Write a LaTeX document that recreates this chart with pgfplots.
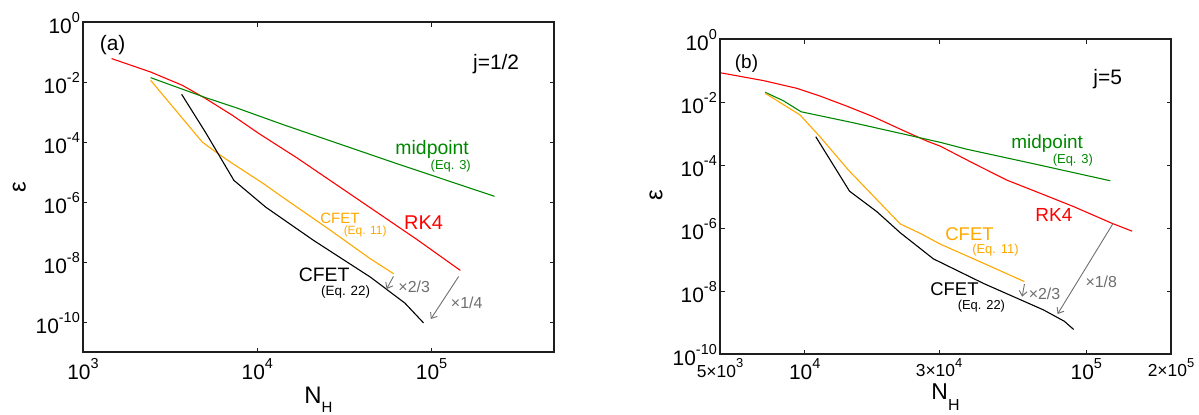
\documentclass[border=0pt]{standalone}
\usepackage{fontspec}
\setmainfont{Liberation Sans}
\usepackage{pgfplots}
\pgfplotsset{compat=1.18}
\usetikzlibrary{arrows.meta}
\definecolor{mgreen}{RGB}{0,135,0}
\definecolor{morange}{RGB}{255,168,0}
\definecolor{mgray}{RGB}{110,110,110}
\definecolor{mframe}{RGB}{30,30,30}
\newcommand{\fs}[1]{\fontsize{#1}{#1}\selectfont}
\newcommand{\sps}[1]{\raisebox{11bp}{\fs{14.5}#1}}
\newcommand{\spss}[1]{\raisebox{9.5bp}{\fs{13}#1}}
\tikzset{
  mylab/.style={anchor=west, inner sep=0pt},
  myarr/.style={mgray, line width=0.9bp, -{Straight Barb[length=5bp,width=8bp]}},
}
\begin{document}
\begin{tikzpicture}
\useasboundingbox (0,0) rectangle (1199bp,-415bp);
% ---------------- panel (a)
\begin{axis}[name=pa,
  scale only axis, xmode=log, ymode=log, clip=false,
  xminorticks=false, yminorticks=false,
  tick align=inside, major tick length=4.5bp,
  axis line style={draw=mframe, line width=1.5bp},
  tick style={draw=mframe, line width=1bp},
  tick label style={font=\fs{21}},
  xticklabel style={inner sep=0pt, anchor=north, yshift=-6.6bp},
  yticklabel style={inner sep=0pt, anchor=east, xshift=-3bp, yshift=-1.5bp},
  ytick={1e-10,1e-8,1e-6,1e-4,1e-2,1},
  yticklabels={10\sps{-10},10\sps{-8},10\sps{-6},10\sps{-4},10\sps{-2},10\sps{0}},
  at={(83bp,-352bp)}, anchor=south west,
  width=471bp, height=330bp,
  xmin=1e3, xmax=5.04e5, ymin=1e-11, ymax=1,
  xtick={1e3,1e4,1e5},
  xticklabels={10\sps{3},10\sps{4},10\sps{5}},
]
\addplot[red, line width=1.1bp] coordinates {(1459,6.03e-2)(2443,2.153e-2)(3715,7.762e-3)(5047,2.818e-3)(7194,7.762e-4)(10230,1.905e-4)(16900,2.951e-5)(40740,9.12e-7)(82410,5.623e-8)(146200,5.248e-9)};
\addplot[mgreen, line width=1.1bp] coordinates {(2443,1.396e-2)(5047,3.020e-3)(7499,1.413e-3)(13900,3.890e-4)(63100,1.905e-5)(229600,1.549e-6)};
\addplot[morange, line width=1.1bp] coordinates {(2443,1.140e-2)(4831,1e-4)(5768,4.677e-5)(7015,2.138e-5)(10860,4.074e-6)(13900,1.479e-6)(26240,1.148e-7)(44460,1.288e-8)(60530,4.074e-9)};
\addplot[black, line width=1.1bp] coordinates {(3681,3.890e-3)(5047,2.089e-4)(7345,5.248e-6)(11170,6.761e-7)(21040,5.248e-8)(44460,3.162e-9)(70310,4.266e-10)(89950,9.333e-11)};
\draw[myarr] (axis cs:6.04e4,3.3e-9) -- (axis cs:5.52e4,1.26e-9);
\draw[myarr] (axis cs:1.43e5,3.3e-9) -- (axis cs:9.9e4,1.26e-10);
\node[font=\fs{21}, anchor=center, inner sep=0pt] at (axis cs:1479,0.167) {(a)};
\node[mylab, font=\fs{21}] at (axis cs:1.728e5,4.10e-2) {j=1/2};
\node[mylab, font=\fs{19.5}, text=mgreen] at (axis cs:6.19e4,5.58e-5) {midpoint};
\node[anchor=east, inner sep=0pt, font=\fs{13}, text=mgreen] at (axis cs:1.683e5,1.55e-5) {(Eq. 3)};
\node[mylab, font=\fs{20}, text=red] at (axis cs:6.95e4,2.01e-7) {RK4};
\node[mylab, font=\fs{15}, text=morange] at (axis cs:2.296e4,2.80e-7) {CFET};
\node[mylab, font=\fs{12}, text=morange] at (axis cs:3.126e4,1.05e-7) {(Eq. 11)};
\node[mylab, font=\fs{19.5}] at (axis cs:1.726e4,3.61e-9) {CFET};
\node[mylab, font=\fs{13.5}] at (axis cs:2.317e4,1.0e-9) {(Eq. 22)};
\node[mylab, font=\fs{16}, text=mgray] at (axis cs:6.44e4,1.44e-9) {×2/3};
\node[mylab, font=\fs{16}, text=mgray] at (axis cs:1.288e5,4.30e-10) {×1/4};
\node[font=\fs{24}, anchor=base, inner sep=0pt] at (rel axis cs:0.5,-0.1567) {N\raisebox{-9bp}{\fs{15}H}};
\node[font=\fs{24}, rotate=90, anchor=center, inner sep=0pt] at (rel axis cs:-0.135,0.5) {ε};
\end{axis}
\draw[mframe, line width=1.5bp] (pa.south west) rectangle (pa.north east);
% ---------------- panel (b)
\begin{axis}[name=pb,
  scale only axis, xmode=log, ymode=log, clip=false,
  xminorticks=false, yminorticks=false,
  tick align=inside, major tick length=4.5bp,
  axis line style={draw=mframe, line width=1.5bp},
  tick style={draw=mframe, line width=1bp},
  tick label style={font=\fs{21}},
  xticklabel style={inner sep=0pt, anchor=north, yshift=-4.3bp},
  yticklabel style={inner sep=0pt, anchor=east, xshift=-3bp, yshift=-1.5bp},
  ytick={1e-10,1e-8,1e-6,1e-4,1e-2,1},
  yticklabels={10\sps{-10},10\sps{-8},10\sps{-6},10\sps{-4},10\sps{-2},10\sps{0}},
  at={(720bp,-354bp)}, anchor=south west,
  width=451bp, height=315bp,
  xmin=5e3, xmax=2e5, ymin=1e-10, ymax=1,
  xtick={5e3,1e4,3e4,1e5,2e5},
  xticklabels={{\fs{17.5}5×10\spss{3}},10\sps{4},{\fs{17.5}3×10\spss{4}},10\sps{5},{\fs{17.5}2×10\spss{5}}},
]
\addplot[red, line width=1.1bp] coordinates {(5000,8.51e-2)(7129,4.786e-2)(9376,2.716e-2)(11320,1.549e-2)(14090,7.413e-3)(17540,3.388e-3)(22440,1.230e-3)(27160,5.754e-4)(30270,3.981e-4)(39810,1.122e-4)(52240,3.311e-5)(68710,1.259e-5)(90160,4.786e-6)(123300,1.413e-6)(145500,7.943e-7)};
\addplot[mgreen, line width=1.1bp] coordinates {(7228,2.042e-2)(8395,1.096e-2)(9705,4.898e-3)(14890,2.188e-3)(21230,1.072e-3)(30270,5.248e-4)(37670,3.162e-4)(65010,1.096e-4)(121700,3.162e-5)};
\addplot[morange, line width=1.1bp] coordinates {(7228,1.905e-2)(9616,3.890e-3)(11320,7.943e-4)(14290,6.918e-5)(21830,1.349e-6)(25700,6.761e-7)(30270,3.090e-7)(43150,7.586e-8)(60260,1.995e-8)};
\addplot[black, line width=1.1bp] coordinates {(10940,7.943e-4)(14420,1.479e-5)(18030,3.311e-6)(21830,7.079e-7)(28640,1.047e-7)(43150,1.738e-8)(70470,2.512e-9)(83560,1.096e-9)(90160,6.026e-10)};
\draw[myarr] (axis cs:6.03e4,1.66e-8) -- (axis cs:5.92e4,6.61e-9);
\draw[myarr] (axis cs:1.242e5,1.35e-6) -- (axis cs:7.91e4,1.86e-9);
\node[font=\fs{19}, anchor=west, inner sep=0pt] at (axis cs:5640,0.169) {(b)};
\node[mylab, font=\fs{21}] at (axis cs:1.059e5,5.26e-2) {j=5};
\node[mylab, font=\fs{19}, text=mgreen] at (axis cs:5.414e4,4.64e-4) {midpoint};
\node[anchor=east, inner sep=0pt, font=\fs{13}, text=mgreen] at (axis cs:1.057e5,1.44e-4) {(Eq. 3)};
\node[mylab, font=\fs{19}, text=red] at (axis cs:6.59e4,2.59e-6) {RK4};
\node[mylab, font=\fs{18.5}, text=morange] at (axis cs:3.155e4,6.3e-7) {CFET};
\node[mylab, font=\fs{13}, text=morange] at (axis cs:3.93e4,2.05e-7) {(Eq. 11)};
\node[mylab, font=\fs{18.5}] at (axis cs:2.79e4,1.12e-8) {CFET};
\node[mylab, font=\fs{13}] at (axis cs:3.49e4,3.2e-9) {(Eq. 22)};
\node[mylab, font=\fs{16}, text=mgray] at (axis cs:6.24e4,8.45e-9) {×2/3};
\node[mylab, font=\fs{16}, text=mgray] at (axis cs:9.92e4,1.97e-8) {×1/8};
\node[font=\fs{23}, anchor=base, inner sep=0pt] at (rel axis cs:0.5,-0.146) {N\raisebox{-11bp}{\fs{16}H}};
\node[font=\fs{24}, rotate=90, anchor=center, inner sep=0pt] at (rel axis cs:-0.142,0.505) {ε};
\end{axis}
\draw[mframe, line width=1.5bp] (pb.south west) rectangle (pb.north east);
\end{tikzpicture}
\end{document}
